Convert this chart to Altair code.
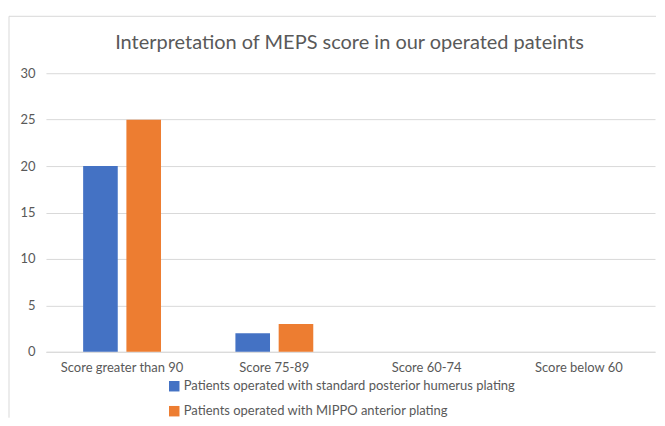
import altair as alt
import pandas as pd

categories = ["Score greater than 90", "Score 75-89", "Score 60-74", "Score below 60"]
series_names = [
    "Patients operated with standard posterior humerus plating",
    "Patients operated with MIPPO anterior plating",
]
standard_posterior = [20, 2, 0, 0]
mippo_anterior = [25, 3, 0, 0]
colors = ["#4472C4", "#ED7D31"]
title_text = "Interpretation of MEPS score in our operated pateints"

rows = []
for i, c in enumerate(categories):
    rows.append({"category": c, "series": series_names[0], "value": standard_posterior[i]})
    rows.append({"category": c, "series": series_names[1], "value": mippo_anterior[i]})
df = pd.DataFrame(rows)

FONT = "Lato"
TXT = "#595959"

bars = alt.Chart(df).mark_bar().encode(
    x=alt.X("category:N", sort=categories, title=None,
            scale=alt.Scale(paddingInner=0, paddingOuter=0),
            axis=alt.Axis(labelAngle=0, ticks=False, domainColor="#D9D9D9",
                          labelColor=TXT, labelFontSize=13, labelFont=FONT,
                          labelPadding=10, grid=False)),
    xOffset=alt.XOffset("series:N", sort=series_names,
                        scale=alt.Scale(paddingInner=0.2, paddingOuter=0.86)),
    y=alt.Y("value:Q", title=None,
            scale=alt.Scale(domain=[0, 30]),
            axis=alt.Axis(values=[0, 5, 10, 15, 20, 25, 30], domain=False, ticks=False,
                          gridColor="#D9D9D9", labelColor=TXT, labelFontSize=13,
                          labelFont=FONT, labelPadding=11)),
    color=alt.Color("series:N", sort=series_names,
                    scale=alt.Scale(domain=series_names, range=colors),
                    legend=alt.Legend(title=None, orient="none", direction="vertical",
                                      legendX=122, legendY=307, symbolType="square",
                                      symbolSize=110, symbolStrokeWidth=0,
                                      labelFontSize=13, labelFont=FONT, labelColor=TXT,
                                      labelOffset=3, rowPadding=11, labelLimit=500)),
)

one = pd.DataFrame({"t": [title_text]})

top_rule = alt.Chart(one).mark_rule(color="#D9D9D9", strokeWidth=1).encode(
    x=alt.value(-37), x2=alt.value(611), y=alt.value(-57)
)
left_rule = alt.Chart(one).mark_rule(color="#D9D9D9", strokeWidth=1).encode(
    x=alt.value(-37), y=alt.value(-57), y2=alt.value(345)
)

title = alt.Chart(one).mark_text(
    font=FONT, fontSize=20, color=TXT, align="center", baseline="middle"
).encode(
    text="t:N", x=alt.value(304), y=alt.value(-30)
)

chart = alt.layer(top_rule, left_rule, title, bars).properties(
    width=610, height=279,
    padding={"left": 0, "top": 7, "right": 0, "bottom": 0},
).configure_view(stroke=None)

chart.save("out.html", embed_options={"renderer": "svg", "actions": False})
